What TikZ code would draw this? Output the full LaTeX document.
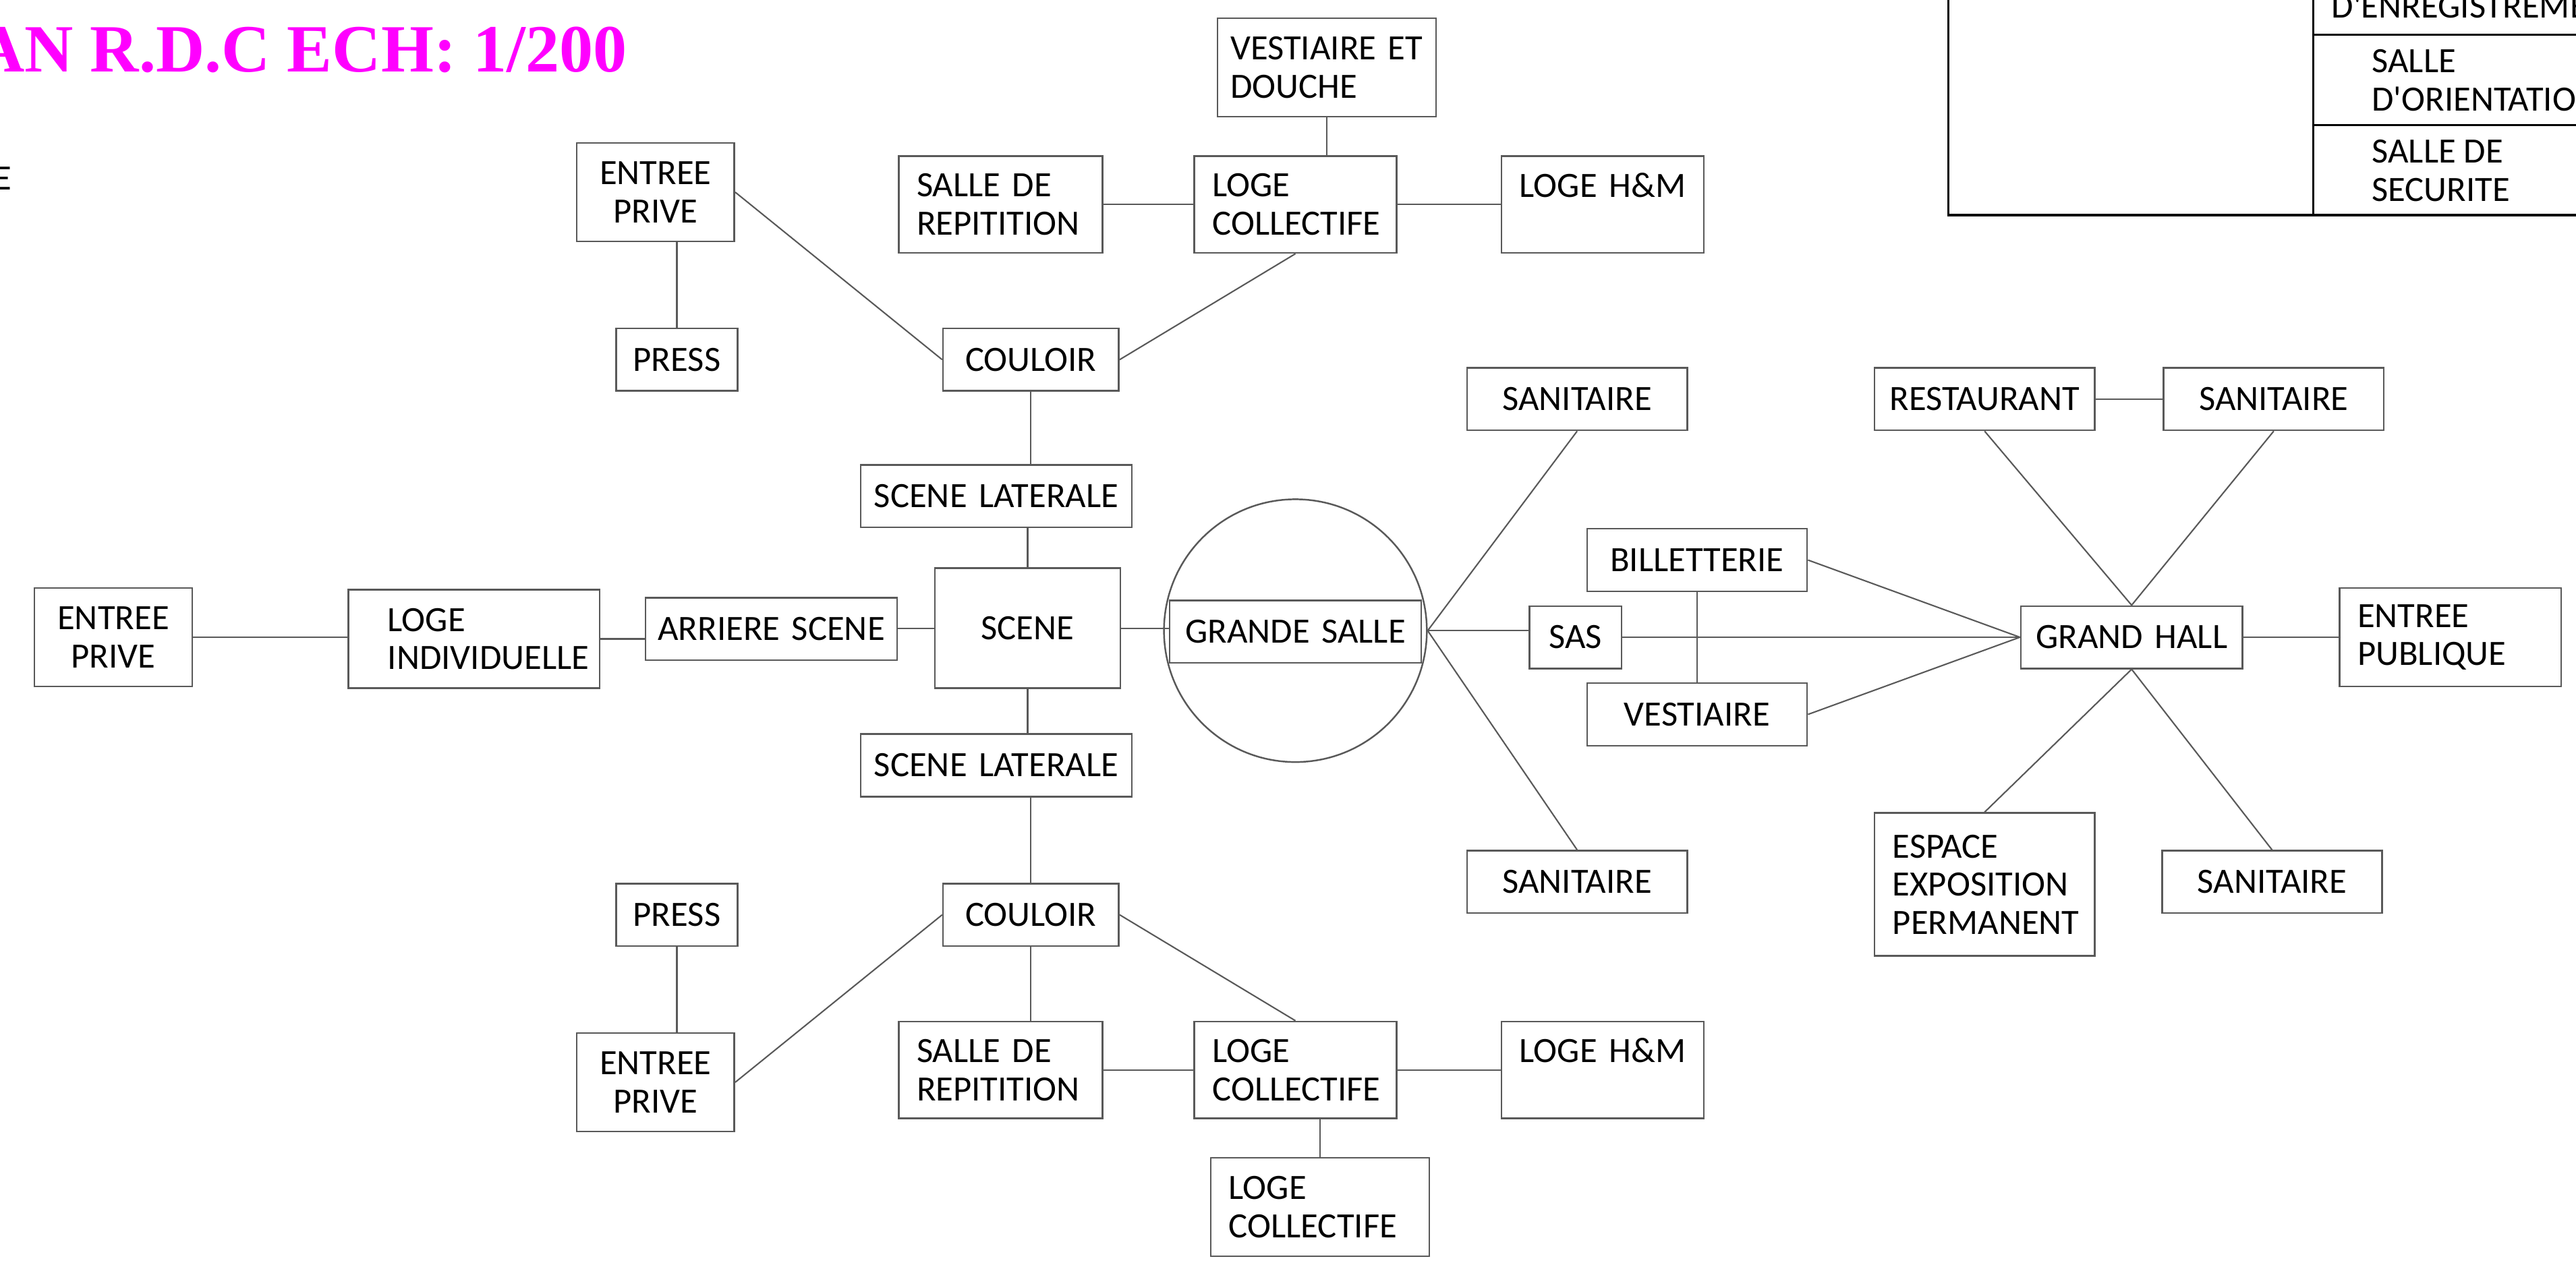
\documentclass[tikz,border=0pt]{standalone}
\usepackage{fontspec}
\setmainfont{Carlito}
\newfontfamily\titlefont{Liberation Serif}
\definecolor{ttl}{HTML}{FF00FF}
\hyphenpenalty=10000
\exhyphenpenalty=10000
\def\pxu{0.024356cm}

\begin{document}
\begin{tikzpicture}[x=0.024356cm, y=-0.024356cm, font=\fontsize{15}{16.1}\selectfont,
    main/.style n args={3}{draw=black!65, line width=0.7pt, inner ysep=0pt, minimum width=#1*\pxu, minimum height=#2*\pxu, inner xsep=#3*\pxu, /utils/exec={\pgfmathsetlengthmacro\bxtw{(#1-2*#3)*\pxu}}, text width=\bxtw},
    ctr/.style = {align=center}, lft/.style = {align=left},
    hm/.style = {text height=10pt, text depth=16.2pt},
    ln/.style = {draw=black!65, line width=0.6pt},
    tbl/.style = {draw=black, line width=0.9pt},
    txt/.style = {inner sep=0pt, align=left}]
                    \useasboundingbox (0,0) rectangle (1568,770);
                    \node[txt, anchor=base east, text=ttl, font=\titlefont\bfseries\fontsize{28.5}{30}\selectfont] (title) at (382,43.9) {AN R.D.C ECH: 1/200};
                    \node[txt, anchor=base east] (lg) at (7.5,115.6) {E};
                    \draw[tbl] (1186,-5) rectangle (1580,131);
                    \draw[tbl] (1408,-5) -- (1408,131);
                    \draw[tbl] (1408,21) -- (1580,21);
                    \draw[tbl] (1408,76) -- (1580,76);
                    \node[txt, anchor=base west] (t1) at (1419,11) {D\textquotesingle ENREGISTREMENT};
                    \node[txt, anchor=north west] (t2) at (1443.5,30) {SALLE\\D\textquotesingle ORIENTATION};
                    \node[txt, anchor=north west] (t3) at (1443.5,85) {SALLE DE\\SECURITE};
                    \node[main={96}{60}{4}, ctr] (ep1) at (399,117) {ENTREE\\PRIVE};
                    \node[main={74}{38}{4}, ctr] (pr1) at (412,219) {PRESS};
                    \node[main={107}{38}{4}, ctr] (co1) at (627.5,219) {COULOIR};
                    \node[main={124}{59}{11}, lft] (sr1) at (609,124.5) {SALLE DE\\REPITITION};
                    \node[main={123}{59}{11}, lft] (lc1) at (788.5,124.5) {LOGE\\COLLECTIFE};
                    \node[main={133}{60}{8}, lft] (vd) at (807.5,41) {\mbox{VESTIAIRE ET}\\DOUCHE};
                    \node[main={123}{59}{11}, lft, hm] (hm1) at (975.5,124.5) {\mbox{LOGE H\&M}};
                    \node[main={165}{38}{4}, ctr] (sl1) at (606.5,302) {SCENE LATERALE};
                    \node[main={113}{73}{4}, ctr] (sc) at (625.5,382.5) {SCENE};
                    \node[main={153}{38}{4}, ctr] (ar) at (469.5,383) {ARRIERE SCENE};
                    \node[main={153}{60}{24}, lft] (li) at (288.5,389) {LOGE\\\mbox{INDIVIDUELLE}};
                    \node[main={96}{60}{4}, ctr] (ep2) at (69,388) {ENTREE\\PRIVE};
                    \node[main={165}{38}{4}, ctr] (sl2) at (606.5,466) {SCENE LATERALE};
                    \node[main={107}{38}{4}, ctr] (co2) at (627.5,557) {COULOIR};
                    \node[main={74}{38}{4}, ctr] (pr2) at (412,557) {PRESS};
                    \node[main={96}{60}{4}, ctr] (ep3) at (399,659) {ENTREE\\PRIVE};
                    \node[main={124}{59}{11}, lft] (sr2) at (609,651.5) {SALLE DE\\REPITITION};
                    \node[main={123}{59}{11}, lft] (lc2) at (788.5,651.5) {LOGE\\COLLECTIFE};
                    \node[main={123}{59}{11}, lft, hm] (hm2) at (975.5,651.5) {\mbox{LOGE H\&M}};
                    \node[main={133}{60}{11}, lft] (lc3) at (803.5,735) {LOGE\\COLLECTIFE};
                    \node[draw=black!65, line width=0.7pt, circle, inner sep=0pt, minimum size=160*\pxu] (gsc) at (788.5,384) {};
                    \node[main={153}{38}{4}, ctr] (gs) at (788.5,384.6) {GRANDE SALLE};
                    \node[main={134}{38}{4}, ctr] (sa1) at (960,243) {SANITAIRE};
                    \node[main={134}{38}{4}, ctr] (sa2) at (960,537) {SANITAIRE};
                    \node[main={56}{38}{2}, ctr] (sas) at (959,388) {SAS};
                    \node[main={134}{38}{4}, ctr] (bil) at (1033,341) {BILLETTERIE};
                    \node[main={134}{38}{4}, ctr] (ves) at (1033,435) {VESTIAIRE};
                    \node[main={135}{38}{4}, ctr] (gh) at (1297.5,388) {GRAND HALL};
                    \node[main={134}{38}{4}, ctr] (res) at (1208,243) {RESTAURANT};
                    \node[main={134}{38}{4}, ctr] (sa3) at (1384,243) {SANITAIRE};
                    \node[main={135}{60}{11}, lft] (ep4) at (1491.5,388) {ENTREE\\PUBLIQUE};
                    \node[main={134}{87}{11}, lft] (esp) at (1208,538.5) {ESPACE\\EXPOSITION\\PERMANENT};
                    \node[main={134}{38}{4}, ctr] (sa4) at (1383,537) {SANITAIRE};
                    \draw[ln] (ep1.east) -- (co1.west);
                    \draw[ln] (pr1.north) -- (pr1.north |- ep1.south);
                    \draw[ln] (co1.east) -- (lc1.south);
                    \draw[ln] (sr1.east) -- (lc1.west);
                    \draw[ln] (lc1.east) -- (hm1.west);
                    \draw[ln] (vd.south) -- (vd.south |- lc1.north);
                    \draw[ln] (co1.south) -- (co1.south |- sl1.north);
                    \draw[ln] (sc.north) -- (sc.north |- sl1.south);
                    \draw[ln] (sc.west) -- (sc.west -| ar.east);
                    \draw[ln] (li.east) -- (li.east -| ar.west);
                    \draw[ln] (ep2.east) -- (ep2.east -| li.west);
                    \draw[ln] (sc.east) -- (sc.east -| gs.west);
                    \draw[ln] (sc.south) -- (sc.south |- sl2.north);
                    \draw[ln] (co2.north) -- (co2.north |- sl2.south);
                    \draw[ln] (co2.west) -- (ep3.east);
                    \draw[ln] (pr2.south) -- (pr2.south |- ep3.north);
                    \draw[ln] (co2.south) -- (co2.south |- sr2.north);
                    \draw[ln] (co2.east) -- (lc2.north);
                    \draw[ln] (sr2.east) -- (lc2.west);
                    \draw[ln] (lc2.east) -- (hm2.west);
                    \draw[ln] (lc3.north) -- (lc3.north |- lc2.south);
                    \draw[ln] (gsc.east) -- (sa1.south);
                    \draw[ln] (gsc.east) -- (sa2.north);
                    \draw[ln] (gsc.east) -- (gsc.east -| sas.west);
                    \draw[ln] (sas.east) -- (gh.west);
                    \draw[ln] (bil.east) -- (gh.west);
                    \draw[ln] (ves.east) -- (gh.west);
                    \draw[ln] (bil.south) -- (ves.north);
                    \draw[ln] (gh.north) -- (res.south);
                    \draw[ln] (gh.north) -- (sa3.south);
                    \draw[ln] (res.east) -- (sa3.west);
                    \draw[ln] (gh.east) -- (ep4.west);
                    \draw[ln] (gh.south) -- (esp.north);
                    \draw[ln] (gh.south) -- (sa4.north);
                \end{tikzpicture}
\end{document}
